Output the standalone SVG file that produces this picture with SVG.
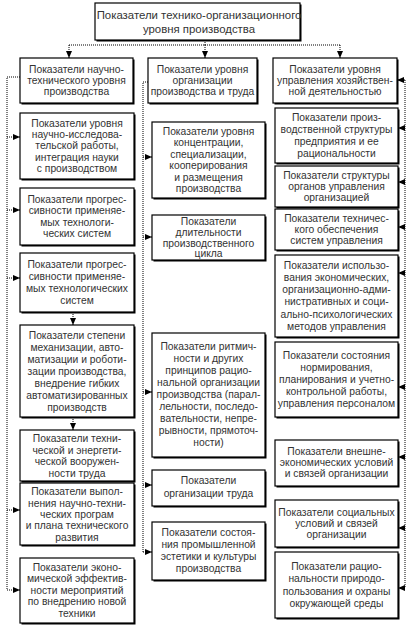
<svg xmlns="http://www.w3.org/2000/svg" width="420" height="630" viewBox="0 0 420 630">
<style>
.sh{fill:#000}
.bx{fill:#fff;stroke:#000;stroke-width:1.2}
text{font-family:"Liberation Sans",Arial,sans-serif;font-size:10.3px;fill:#333;text-anchor:middle}
.t10{font-size:11.4px}
.ln{fill:none;stroke:#000;stroke-width:1;stroke-dasharray:1 1}
.ar{fill:none;stroke:#000;stroke-width:1;stroke-dasharray:1 1;marker-end:url(#ah)}
</style>
<defs>
<marker id="ah" markerUnits="userSpaceOnUse" markerWidth="7" markerHeight="7" viewBox="0 0 7 7" refX="7" refY="3.5" orient="auto">
<path d="M0,0.5 L7,3.5 L0,6.5 Z" fill="#000"/>
</marker>
</defs>
<rect width="420" height="630" fill="#fff"/>

<g id="connectors">
<path class="ln" d="M205,40 V45 M69,45 H340"/>
<path class="ar" d="M69,45 V58"/>
<path class="ar" d="M205,45 V58"/>
<path class="ar" d="M340,45 V58"/>
<path class="ln" d="M20,77 H7 V590"/>
<path class="ar" d="M7,137 H20"/>
<path class="ar" d="M7,210 H20"/>
<path class="ar" d="M7,278 H20"/>
<path class="ar" d="M7,510 H20"/>
<path class="ar" d="M7,590 H20"/>
<path class="ar" d="M73,312 V325"/>
<path class="ar" d="M73,417 V430"/>
<path class="ln" d="M148,82 H143 V552"/>
<path class="ar" d="M143,157 H152"/>
<path class="ar" d="M143,237 H152"/>
<path class="ar" d="M143,392 H152"/>
<path class="ar" d="M143,485 H152"/>
<path class="ar" d="M143,552 H152"/>
<path class="ln" d="M405,80 V588"/>
<path class="ar" d="M405,80 H397"/>
<path class="ar" d="M405,128 H398"/>
<path class="ar" d="M405,182 H398"/>
<path class="ar" d="M405,227 H398"/>
<path class="ar" d="M405,273 H398"/>
<path class="ar" d="M405,387 H398"/>
<path class="ar" d="M405,457 H398"/>
<path class="ar" d="M405,528 H398"/>
<path class="ar" d="M405,588 H398"/>
</g>

<g id="top">
<rect class="sh" x="96.5" y="4.5" width="205" height="37"/>
<rect class="bx" x="95" y="3" width="205" height="37"/>
<text class="t10" x="199" y="19">Показатели технико-организационного</text>
<text class="t10" x="199" y="33">уровня производства</text>
</g>

<g id="left-header">
<rect class="sh" x="21.5" y="59.5" width="113" height="45"/>
<rect class="bx" x="20" y="58" width="113" height="45"/>
<text x="76.5" y="73.3">Показатели научно-</text>
<text x="76.5" y="84.3">технического уровня</text>
<text x="76.5" y="95.3">производства</text>
</g>

<g id="left-1">
<rect class="sh" x="21.5" y="114.5" width="114" height="66"/>
<rect class="bx" x="20" y="113" width="114" height="66"/>
<text x="77" y="126.6">Показатели уровня</text>
<text x="77" y="137.9">научно-исследова-</text>
<text x="77" y="149.2">тельской работы,</text>
<text x="77" y="160.5">интеграция науки</text>
<text x="77" y="171.8">с производством</text>
</g>

<g id="left-2">
<rect class="sh" x="21.5" y="189.5" width="114" height="57"/>
<rect class="bx" x="20" y="188" width="114" height="57"/>
<text x="77" y="202.5">Показатели прогрес-</text>
<text x="77" y="214">сивности применяе-</text>
<text x="77" y="225.5">мых технологи-</text>
<text x="77" y="237">ческих систем</text>
</g>

<g id="left-3">
<rect class="sh" x="21.5" y="254.5" width="114" height="59"/>
<rect class="bx" x="20" y="253" width="114" height="59"/>
<text x="77" y="267.5">Показатели прогрес-</text>
<text x="77" y="279.5">сивности применяе-</text>
<text x="77" y="291.5">мых технологических</text>
<text x="77" y="303.5">систем</text>
</g>

<g id="left-4">
<rect class="sh" x="21.5" y="326.5" width="114" height="92"/>
<rect class="bx" x="20" y="325" width="114" height="92"/>
<text x="77" y="338.5">Показатели степени</text>
<text x="77" y="350.6">механизации, авто-</text>
<text x="77" y="362.7">матизации и роботи-</text>
<text x="77" y="374.8">зации производства,</text>
<text x="77" y="386.9">внедрение гибких</text>
<text x="77" y="399">автоматизированных</text>
<text x="77" y="411.1">производств</text>
</g>

<g id="left-5">
<rect class="sh" x="21.5" y="431.5" width="114" height="51"/>
<rect class="bx" x="20" y="430" width="114" height="51"/>
<text x="77" y="442.3">Показатели техни-</text>
<text x="77" y="453.8">ческой и энергети-</text>
<text x="77" y="465.3">ческой вооружен-</text>
<text x="77" y="476.8">ности труда</text>
</g>

<g id="left-6">
<rect class="sh" x="21.5" y="484.5" width="114" height="62"/>
<rect class="bx" x="20" y="483" width="114" height="62"/>
<text x="77" y="495.3">Показатели выпол-</text>
<text x="77" y="506.6">нения научно-техни-</text>
<text x="77" y="517.9">ческих програм</text>
<text x="77" y="529.2">и плана технического</text>
<text x="77" y="540.5">развития</text>
</g>

<g id="left-7">
<rect class="sh" x="21.5" y="559.5" width="114" height="65"/>
<rect class="bx" x="20" y="558" width="114" height="65"/>
<text x="77" y="570.8">Показатели эконо-</text>
<text x="77" y="582.3">мической эффектив-</text>
<text x="77" y="593.8">ности мероприятий</text>
<text x="77" y="605.3">по внедрению новой</text>
<text x="77" y="616.8">техники</text>
</g>

<g id="mid-header">
<rect class="sh" x="149.5" y="59.5" width="109" height="45"/>
<rect class="bx" x="148" y="58" width="109" height="45"/>
<text x="202.5" y="73.3">Показатели уровня</text>
<text x="202.5" y="84.3">организации</text>
<text x="202.5" y="95.3">производства и труда</text>
</g>

<g id="mid-1">
<rect class="sh" x="153.5" y="123.5" width="113" height="76"/>
<rect class="bx" x="152" y="122" width="113" height="76"/>
<text x="208.5" y="134.5">Показатели уровня</text>
<text x="208.5" y="146">концентрации,</text>
<text x="208.5" y="157.5">специализации,</text>
<text x="208.5" y="169">кооперирования</text>
<text x="208.5" y="180.5">и размещения</text>
<text x="208.5" y="192">производства</text>
</g>

<g id="mid-2">
<rect class="sh" x="153.5" y="216.5" width="113" height="45"/>
<rect class="bx" x="152" y="215" width="113" height="45"/>
<text x="208.5" y="225.2">Показатели</text>
<text x="208.5" y="235.9">длительности</text>
<text x="208.5" y="246.6">производственного</text>
<text x="208.5" y="257.3">цикла</text>
</g>

<g id="mid-3">
<rect class="sh" x="153.5" y="334.5" width="113" height="124"/>
<rect class="bx" x="152" y="333" width="113" height="124"/>
<text x="208.5" y="350.3">Показатели ритмич-</text>
<text x="208.5" y="362.3">ности и других</text>
<text x="208.5" y="374.3">принципов рацио-</text>
<text x="208.5" y="386.3">нальной организации</text>
<text x="208.5" y="398.3">производства (парал-</text>
<text x="208.5" y="410.3">лельности, последо-</text>
<text x="208.5" y="422.3">вательности, непре-</text>
<text x="208.5" y="434.3">рывности, прямоточ-</text>
<text x="208.5" y="446.3">ности)</text>
</g>

<g id="mid-4">
<rect class="sh" x="153.5" y="471.5" width="113" height="36"/>
<rect class="bx" x="152" y="470" width="113" height="36"/>
<text x="208.5" y="484.3">Показатели</text>
<text x="208.5" y="497.3">организации труда</text>
</g>

<g id="mid-5">
<rect class="sh" x="153.5" y="523.5" width="113" height="58"/>
<rect class="bx" x="152" y="522" width="113" height="58"/>
<text x="208.5" y="536.3">Показатели состоя-</text>
<text x="208.5" y="548.3">ния промышленной</text>
<text x="208.5" y="560.3">эстетики и культуры</text>
<text x="208.5" y="572.3">производства</text>
</g>

<g id="right-header">
<rect class="sh" x="274.5" y="59.5" width="124" height="45"/>
<rect class="bx" x="273" y="58" width="124" height="45"/>
<text x="335" y="73.3">Показатели уровня</text>
<text x="335" y="84.3">управления хозяйствен-</text>
<text x="335" y="95.3">ной деятельностью</text>
</g>

<g id="right-1">
<rect class="sh" x="276.5" y="109.5" width="123" height="55"/>
<rect class="bx" x="275" y="108" width="123" height="55"/>
<text x="336.5" y="120.8">Показатели произ-</text>
<text x="336.5" y="132.8">водственной структуры</text>
<text x="336.5" y="144.8">предприятия и ее</text>
<text x="336.5" y="156.8">рациональности</text>
</g>

<g id="right-2">
<rect class="sh" x="276.5" y="167.5" width="123" height="41"/>
<rect class="bx" x="275" y="166" width="123" height="41"/>
<text x="336.5" y="178.8">Показатели структуры</text>
<text x="336.5" y="189.8">органов управления</text>
<text x="336.5" y="200.8">организацией</text>
</g>

<g id="right-3">
<rect class="sh" x="276.5" y="210.5" width="123" height="41"/>
<rect class="bx" x="275" y="209" width="123" height="41"/>
<text x="336.5" y="221.8">Показатели техничес-</text>
<text x="336.5" y="232.8">кого обеспечения</text>
<text x="336.5" y="243.8">систем управления</text>
</g>

<g id="right-4">
<rect class="sh" x="276.5" y="256.5" width="123" height="82"/>
<rect class="bx" x="275" y="255" width="123" height="82"/>
<text x="336.5" y="268.5">Показатели использо-</text>
<text x="336.5" y="280.8">вания экономических,</text>
<text x="336.5" y="293.1">организационно-адми-</text>
<text x="336.5" y="305.4">нистративных и соци-</text>
<text x="336.5" y="317.7">ально-психологических</text>
<text x="336.5" y="330">методов управления</text>
</g>

<g id="right-5">
<rect class="sh" x="276.5" y="343.5" width="123" height="75"/>
<rect class="bx" x="275" y="342" width="123" height="75"/>
<text x="336.5" y="358.8">Показатели состояния</text>
<text x="336.5" y="370.8">нормирования,</text>
<text x="336.5" y="382.8">планирования и учетно-</text>
<text x="336.5" y="394.8">контрольной работы,</text>
<text x="336.5" y="406.8">управления персоналом</text>
</g>

<g id="right-6">
<rect class="sh" x="276.5" y="441.5" width="123" height="46"/>
<rect class="bx" x="275" y="440" width="123" height="46"/>
<text x="336.5" y="455.3">Показатели внешне-</text>
<text x="336.5" y="466.3">экономических условий</text>
<text x="336.5" y="477.3">и связей организации</text>
</g>

<g id="right-7">
<rect class="sh" x="276.5" y="501.5" width="123" height="47"/>
<rect class="bx" x="275" y="500" width="123" height="47"/>
<text x="336.5" y="515.8">Показатели социальных</text>
<text x="336.5" y="526.8">условий и связей</text>
<text x="336.5" y="537.8">организации</text>
</g>

<g id="right-8">
<rect class="sh" x="276.5" y="553.5" width="123" height="66"/>
<rect class="bx" x="275" y="552" width="123" height="66"/>
<text x="336.5" y="569.5">Показатели рацио-</text>
<text x="336.5" y="582">нальности природо-</text>
<text x="336.5" y="594.5">пользования и охраны</text>
<text x="336.5" y="607">окружающей среды</text>
</g>
</svg>
